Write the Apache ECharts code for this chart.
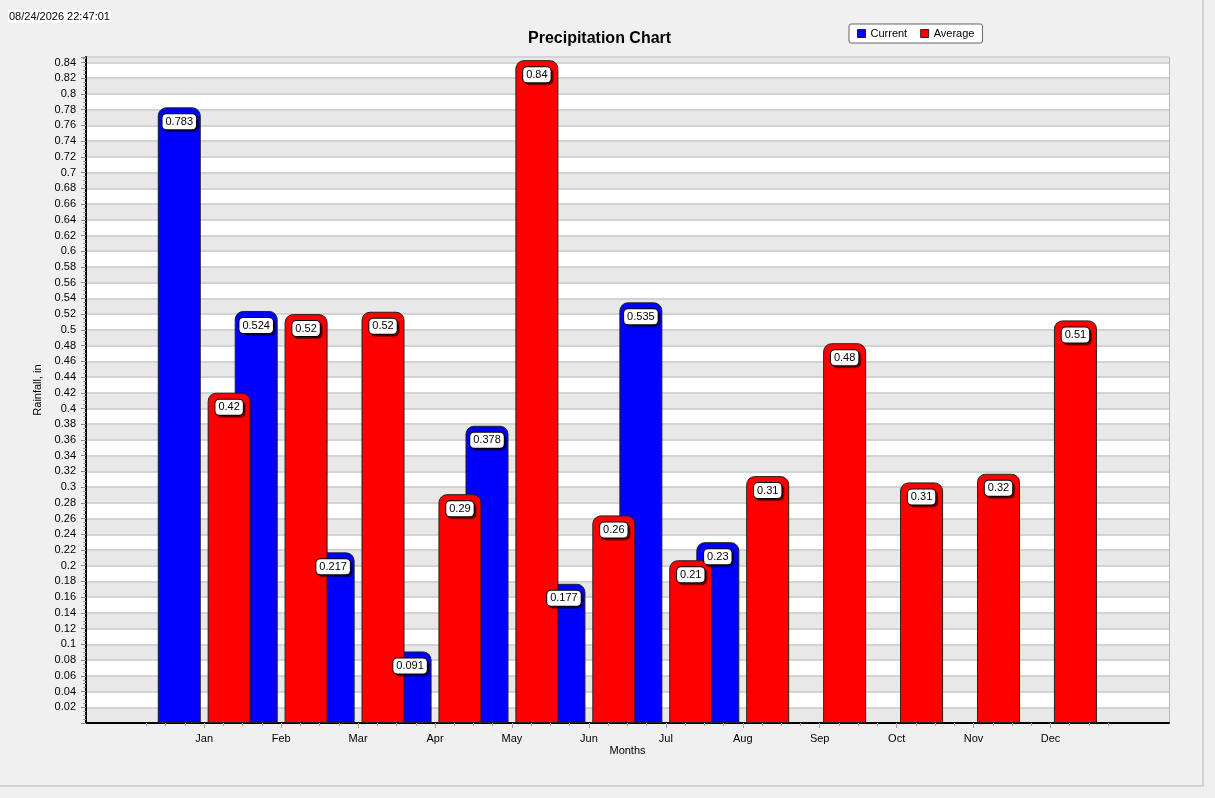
<!DOCTYPE html>
<html>
<head>
<meta charset="utf-8">
<title>Precipitation Chart</title>
<script src="https://cdn.jsdelivr.net/npm/echarts@6/dist/echarts.min.js"></script>
<style>
    html, body { margin: 0; padding: 0; background: #f0f0f0; }
    #main { width: 1215px; height: 798px; }
</style>
</head>
<body>
<div id="main"></div>
<script>
    // data
    var months = ['Jan', 'Feb', 'Mar', 'Apr', 'May', 'Jun', 'Jul', 'Aug', 'Sep', 'Oct', 'Nov', 'Dec'];
    var current = [0.783, 0.524, 0.217, 0.091, 0.378, 0.177, 0.535, 0.23, null, null, null, null];
    var average = [0.42, 0.52, 0.523, 0.291, 0.843, 0.264, 0.207, 0.314, 0.483, 0.306, 0.317, 0.512];
    var stamp = '08/24/2026 22:47:01';

    var font = 'Liberation Sans, Arial, sans-serif';
    var yMax = 0.847;

    // one empty slot each side of the months
    var xCats = [''].concat(months, ['']);
    var pad = function (arr) {
        return [null].concat(arr, [null]);
    };

    var labelBox = {
        show: true,
        position: 'insideTop',
        distance: 7,
        color: '#000',
        fontSize: 11,
        lineHeight: 13,
        fontFamily: font,
        backgroundColor: '#fff',
        borderColor: '#000',
        borderWidth: 1,
        borderRadius: 4,
        padding: [1, 3],
        shadowColor: 'rgba(0,0,0,0.45)',
        shadowOffsetX: 2,
        shadowOffsetY: 2,
        shadowBlur: 0
    };

    var chart = echarts.init(document.getElementById('main'));

    var option = {
        backgroundColor: '#f0f0f0',
        animation: false,
        textStyle: {fontFamily: font},
        title: {
            text: 'Precipitation Chart',
            left: 528,
            top: 31,
            padding: 0,
            textStyle: {fontSize: 16, fontWeight: 'bold', color: '#000', fontFamily: font}
        },
        graphic: [
            {
                type: 'text', left: 8, top: 10, z: 10,
                style: {text: stamp, fontSize: 11, fontFamily: font, fill: '#000', backgroundColor: '#fff', padding: [1, 1]}
            },
            {
                type: 'rect', left: 1202, top: 0, z: 1,
                shape: {width: 2, height: 787},
                style: {fill: '#d2d2d2'}
            },
            {
                type: 'rect', left: 0, top: 785, z: 1,
                shape: {width: 1204, height: 2},
                style: {fill: '#d2d2d2'}
            }
        ],
        legend: {
            left: 849,
            top: 24,
            orient: 'horizontal',
            padding: [4, 8],
            itemGap: 13,
            itemWidth: 8,
            itemHeight: 8,
            icon: 'rect',
            backgroundColor: '#fff',
            borderColor: '#666',
            borderWidth: 1,
            borderRadius: 2,
            itemStyle: {borderColor: '#222', borderWidth: 1},
            textStyle: {fontSize: 11, color: '#000', fontFamily: font},
            data: ['Current', 'Average']
        },
        grid: [
            // frame, stripes and value axis
            {left: 86, right: 46, top: 57, bottom: 75, show: true, borderColor: '#808080', borderWidth: 1, backgroundColor: 'transparent'},
            // bars and month axis
            {left: 88.8, right: 49.1, top: 57, bottom: 75}
        ],
        xAxis: [
            {
                gridIndex: 0,
                type: 'category',
                data: xCats,
                name: 'Months',
                nameLocation: 'middle',
                nameGap: 22,
                nameTextStyle: {fontSize: 11, color: '#000', fontFamily: font},
                axisLine: {show: true, lineStyle: {color: '#000', width: 2}},
                axisTick: {show: false},
                axisLabel: {show: false},
                splitLine: {show: false}
            },
            {
                gridIndex: 1,
                type: 'category',
                data: xCats,
                axisLine: {show: false},
                axisTick: {
                    show: true,
                    alignWithLabel: true,
                    length: 5,
                    interval: function (i) {
                        return i >= 1 && i <= months.length;
                    },
                    lineStyle: {color: '#999'}
                },
                axisLabel: {interval: 0, fontSize: 11, color: '#000', margin: 10, fontFamily: font},
                splitLine: {show: false}
            },
            {
                // quarter-month minor ticks
                gridIndex: 1,
                type: 'category',
                data: Array(xCats.length * 4 + 1).fill(''),
                boundaryGap: false,
                position: 'bottom',
                axisLine: {show: false},
                axisLabel: {show: false},
                axisTick: {
                    show: true,
                    length: 3,
                    interval: function (i) {
                        return i >= 3 && i <= xCats.length * 4 - 3;
                    },
                    lineStyle: {color: '#aaa'}
                },
                splitLine: {show: false}
            }
        ],
        yAxis: [
            {
                gridIndex: 0,
                type: 'value',
                min: 0,
                max: yMax,
                interval: 0.02,
                name: 'Rainfall, in',
                nameLocation: 'middle',
                nameGap: 37,
                nameTextStyle: {fontSize: 11, color: '#000', fontFamily: font},
                axisLine: {show: true, lineStyle: {color: '#000', width: 2}},
                axisTick: {show: true, length: 5, lineStyle: {color: '#888'}},
                minorTick: {show: true, splitNumber: 4, length: 3, lineStyle: {color: '#999'}},
                axisLabel: {
                    fontSize: 11,
                    color: '#000',
                    margin: 10,
                    fontFamily: font,
                    showMinLabel: false,
                    showMaxLabel: false,
                    formatter: function (v) {
                        return String(+v.toFixed(2));
                    }
                },
                splitLine: {show: true, lineStyle: {color: '#d3d3d3', width: 2}},
                splitArea: {show: true, areaStyle: {color: ['#e8e8e8', '#ffffff']}}
            },
            {
                gridIndex: 1,
                type: 'value',
                min: 0,
                max: yMax,
                show: false
            }
        ],
        series: [
            {
                name: 'Current',
                type: 'bar',
                xAxisIndex: 1,
                yAxisIndex: 1,
                data: pad(current),
                barWidth: 43,
                barGap: '16%',
                itemStyle: {color: '#0000ff', borderColor: '#222', borderWidth: 1, borderRadius: [8, 8, 0, 0]},
                label: Object.assign({}, labelBox, {
                    formatter: function (p) {
                        return String(p.value);
                    }
                })
            },
            {
                name: 'Average',
                type: 'bar',
                xAxisIndex: 1,
                yAxisIndex: 1,
                data: pad(average),
                barWidth: 43,
                barGap: '16%',
                itemStyle: {color: '#ff0000', borderColor: '#222', borderWidth: 1, borderRadius: [8, 8, 0, 0]},
                label: Object.assign({}, labelBox, {
                    formatter: function (p) {
                        return String(+p.value.toFixed(2));
                    }
                })
            }
        ]
    };

    chart.setOption(option);
</script>
</body>
</html>
